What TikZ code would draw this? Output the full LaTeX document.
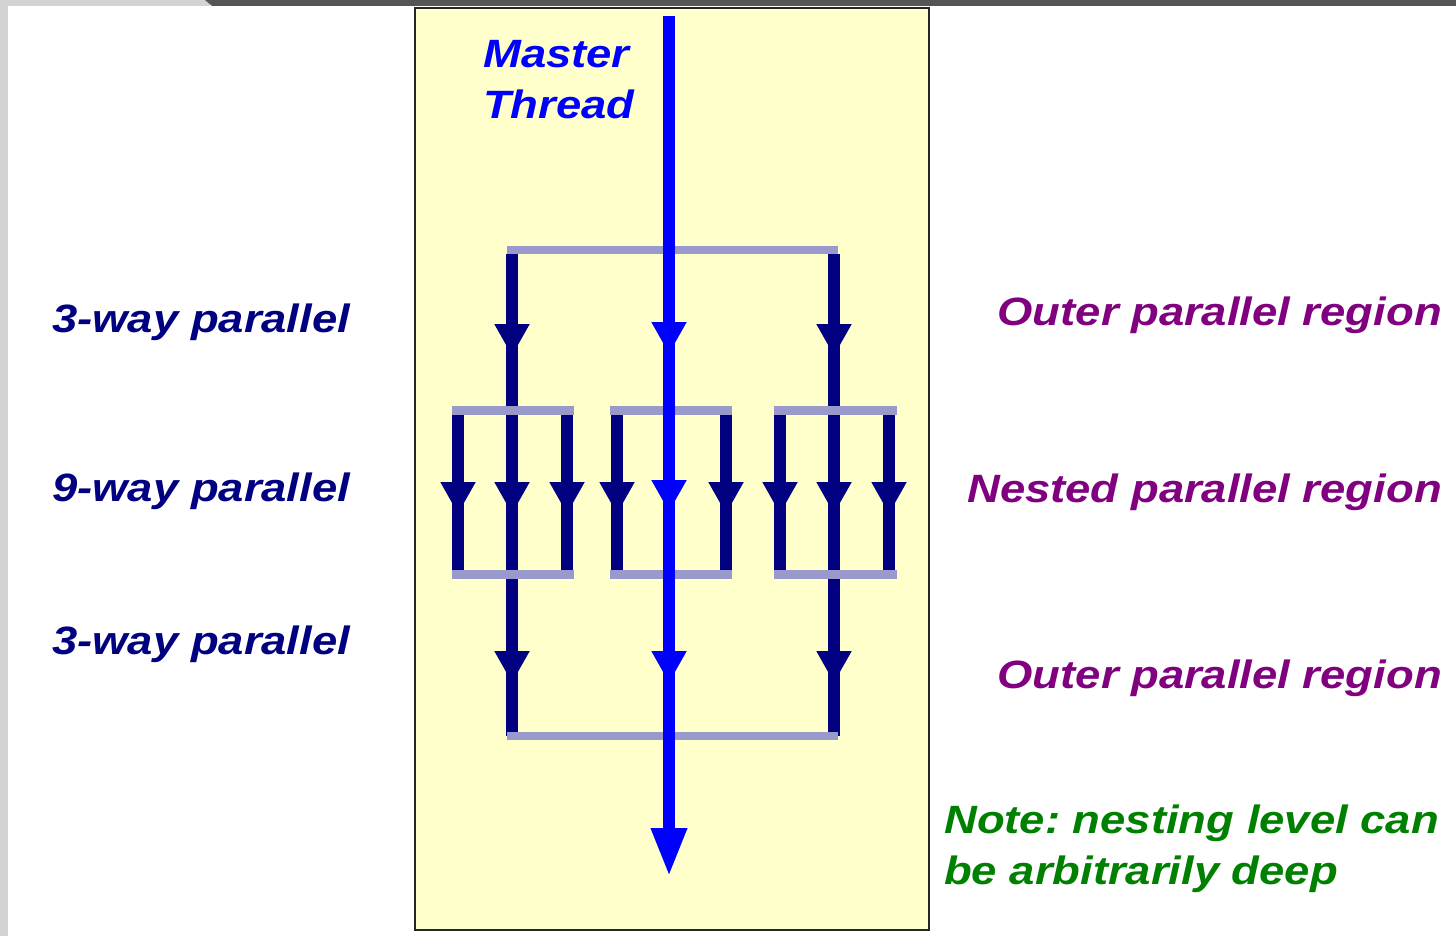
\documentclass[tikz,border=0pt]{standalone}
\usepackage{fontspec}
\setmainfont{Liberation Sans}
\usetikzlibrary{arrows.meta}
\definecolor{navy}{HTML}{000080}
\definecolor{mblue}{HTML}{0000FF}
\definecolor{barc}{HTML}{9999CC}
\definecolor{paper}{HTML}{FFFFCC}
\definecolor{purp}{HTML}{800080}
\definecolor{grn}{HTML}{008000}
\definecolor{edgegray}{HTML}{D3D3D3}
\definecolor{darkgray}{HTML}{555555}
\frenchspacing
\newcommand\stretchtxt[1]{\scalebox{1.15}[1]{#1}}
\tikzset{
  thread/.style={line width=12pt, draw=navy},
  master/.style={line width=12pt, draw=mblue},
  bar/.style={line width=8.5pt, draw=barc},
  tipsmall/.style={-{Triangle[width=33pt,length=32pt]}},
  tipbig/.style={-{Triangle[width=33pt,length=49pt]}},
  lab/.style={inner sep=0pt, font=\fontsize{39.5}{45}\selectfont\bfseries\itshape},
}
\begin{document}
\begin{tikzpicture}[x=1pt,y=-1pt]
\useasboundingbox (0,0) rectangle (1456,936);
% page background and window edges
\fill[white] (0,0) rectangle (1456,936);
\fill[edgegray] (0,0) rectangle (8,936);
\fill[edgegray] (0,0) rectangle (210,6);
\fill[darkgray] (205,0) -- (1456,0) -- (1456,6) -- (212,6) -- cycle;
% panel
\draw[fill=paper, line width=1.5pt, draw=black!85] (415,8) rectangle (929,930);

% coordinates of the thread columns
\foreach \n/\x in {a/458,b/512,c/567,d/617,e/669,f/726,g/780,h/834,i/889}{
  \coordinate (\n0) at (\x,254);
  \coordinate (\n1) at (\x,356);
  \coordinate (\n2) at (\x,410);
  \coordinate (\n3) at (\x,514);
  \coordinate (\n4) at (\x,574);
  \coordinate (\n5) at (\x,683);
  \coordinate (\n6) at (\x,736);
}
% outer team threads
\foreach \n in {b,h}{
  \draw[thread] (\n0) -- (\n2);
  \draw[thread,tipsmall] (\n0) -- (\n1);
  \draw[thread] (\n4) -- (\n6);
  \draw[thread,tipsmall] (\n4) -- (\n5);
}
% nested team threads
\foreach \n in {a,b,c,d,f,g,h,i}{
  \draw[thread] (\n2) -- (\n4);
  \draw[thread,tipsmall] (\n2) -- (\n3);
}
% fork and join bars
\coordinate (forkL) at (507,250);  \coordinate (forkR) at (838,250);
\coordinate (joinL) at (507,736);  \coordinate (joinR) at (838,736);
\draw[bar] (forkL) -- (forkR);
\draw[bar] (joinL) -- (joinR);
\foreach \l/\r/\k in {452/574/1,610/732/2,774/897/3}{
  \coordinate (nf\k L) at (\l,410.5); \coordinate (nf\k R) at (\r,410.5);
  \coordinate (nj\k L) at (\l,574.5); \coordinate (nj\k R) at (\r,574.5);
  \draw[bar] (nf\k L) -- (nf\k R);
  \draw[bar] (nj\k L) -- (nj\k R);
}
% master thread
\coordinate (mstart) at (669,16);
\coordinate (mtipA) at (669,354);
\coordinate (mtipB) at (669,512);
\coordinate (mtipC) at (669,683);
\coordinate (mend) at (669,877);
\draw[master] (mstart) -- (mtipC);
\draw[master,tipsmall] (mstart) -- (mtipA);
\draw[master,tipsmall] (mtipA) -- (mtipB);
\draw[master,tipsmall] (mtipB) -- (mtipC);
\draw[master,tipbig] (mtipC) -- (mend);

% labels
\node[lab, text=mblue, anchor=base west] (mt1) at (483,68) {\stretchtxt{Master}};
\node[lab, text=mblue, anchor=base west] (mt2) at (483,119) {\stretchtxt{Thread}};

\node[lab, text=navy, anchor=base west] (l1) at (52,332) {\stretchtxt{3-way parallel}};
\node[lab, text=navy, anchor=base west] (l2) at (52,501) {\stretchtxt{9-way parallel}};
\node[lab, text=navy, anchor=base west] (l3) at (52,654) {\stretchtxt{3-way parallel}};

\node[lab, text=purp, anchor=base east] (r1) at (1442,325) {\stretchtxt{Outer parallel region}};
\node[lab, text=purp, anchor=base east] (r2) at (1442,502) {\stretchtxt{Nested parallel region}};
\node[lab, text=purp, anchor=base east] (r3) at (1442,688) {\stretchtxt{Outer parallel region}};

\node[lab, text=grn, anchor=base west] (n1) at (944,833) {\stretchtxt{Note: nesting level can}};
\node[lab, text=grn, anchor=base west] (n2) at (944,884) {\stretchtxt{be arbitrarily deep}};
\end{tikzpicture}
\end{document}
